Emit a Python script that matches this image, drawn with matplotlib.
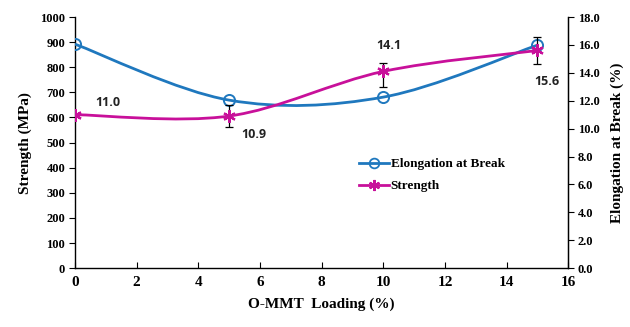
import numpy as np
import matplotlib
matplotlib.use("Agg")
import matplotlib.pyplot as plt
from matplotlib.path import Path
from matplotlib.patches import PathPatch
from matplotlib.lines import Line2D

# ---- data ----
loading = [0, 5, 10, 15]
elong_left = [892, 669, 681, 888]          # blue series, plotted on left axis
strength_right = [11.0, 10.9, 14.1, 15.6]  # magenta series, plotted on right axis
strength_err_low = [0.0, 0.8, 1.15, 1.0]
strength_err_high = [0.0, 0.8, 0.6, 1.0]
strength_labels = ["11.0", "10.9", "14.1", "15.6"]
label_offsets = [(24, 9), (18, -13), (4, 19), (7, -22)]

x_ticks = list(range(0, 17, 2))
left_ticks = list(range(0, 1001, 100))
right_ticks = [0, 2, 4, 6, 8, 10, 12, 14, 16, 18]

BLUE = "#1F78BE"
MAG = "#C8109A"
SERIF = "Liberation Serif"


def smooth_path(xs, ys):
    """Catmull-Rom style Bezier path through the points (Excel smoothed line)."""
    pts = list(zip(xs, ys))
    n = len(pts)
    verts = [pts[0]]
    codes = [Path.MOVETO]
    for i in range(n - 1):
        p0 = pts[i - 1] if i > 0 else pts[i]
        p1 = pts[i]
        p2 = pts[i + 1]
        p3 = pts[i + 2] if i + 2 < n else pts[i + 1]
        c1 = (p1[0] + (p2[0] - p0[0]) / 6.0, p1[1] + (p2[1] - p0[1]) / 6.0)
        c2 = (p2[0] - (p3[0] - p1[0]) / 6.0, p2[1] - (p3[1] - p1[1]) / 6.0)
        verts += [c1, c2, p2]
        codes += [Path.CURVE4] * 3
    return Path(verts, codes)


fig = plt.figure(figsize=(6.3, 3.27), dpi=100)
ax = fig.add_axes([0.119, 0.180, 0.783, 0.768])
ax2 = ax.twinx()

ax.set_xlim(0, 16)
ax.set_ylim(0, 1000)
ax2.set_ylim(0, 18)

# blue smooth line + markers
ax.add_patch(PathPatch(smooth_path(loading, elong_left), fill=False,
                       edgecolor=BLUE, lw=2.0, zorder=3))
ax.plot(loading, elong_left, ls="none", marker="o", ms=8, mfc="none",
        mec=BLUE, mew=1.4, zorder=4)

# magenta smooth line + markers
ax2.add_patch(PathPatch(smooth_path(loading, strength_right), fill=False,
                        edgecolor=MAG, lw=2.0, zorder=3))
ax2.errorbar(loading, strength_right,
             yerr=[strength_err_low, strength_err_high], fmt="none",
             ecolor="black", elinewidth=0.9, capsize=3, capthick=0.9, zorder=2)
ax2.plot(loading, strength_right, ls="none", marker=(6, 2, 0), ms=9,
         mec=MAG, mew=1.6, zorder=4)

for xv, yv, lab, off in zip(loading, strength_right, strength_labels, label_offsets):
    ax2.annotate(lab, (xv, yv), xytext=off, textcoords="offset points",
                 ha="center", va="center", fontsize=9, fontweight="bold",
                 family="Open Sans", color="#222222")

# spines / ticks
for a in (ax, ax2):
    a.spines["top"].set_visible(False)
ax.spines["left"].set_linewidth(1.0)
ax.spines["bottom"].set_linewidth(1.0)
ax2.spines["right"].set_linewidth(1.0)
ax2.spines["left"].set_visible(False)
ax2.spines["bottom"].set_visible(False)

ax.set_xticks(x_ticks)
ax.set_xticklabels([str(t) for t in x_ticks], fontsize=11, fontweight="bold",
                   family=SERIF)
ax.tick_params(axis="x", direction="in", length=4, pad=6)
ax.set_yticks(left_ticks)
ax.set_yticklabels([str(t) for t in left_ticks], fontsize=9,
                   fontweight="bold", family=SERIF)
ax.tick_params(axis="y", direction="out", length=4, pad=3)
ax2.set_yticks(right_ticks)
ax2.set_yticklabels([f"{t:.1f}" for t in right_ticks], fontsize=9,
                    fontweight="bold", family=SERIF)
ax2.tick_params(axis="y", direction="out", length=4, pad=3)

ax.set_xlabel("O-MMT  Loading (%)", fontsize=11, fontweight="bold",
              family=SERIF, labelpad=6)
ax.set_ylabel("Strength (MPa)", fontsize=11, fontweight="bold", family=SERIF,
              labelpad=6)
ax2.set_ylabel("Elongation at Break (%)", fontsize=11, fontweight="bold",
               family=SERIF, labelpad=8)

handles = [
    Line2D([], [], color=BLUE, lw=2, marker="o", ms=7, mfc="none", mew=1.3),
    Line2D([], [], color=MAG, lw=2, marker=(6, 2, 0), ms=8, mew=1.5),
]
leg = ax.legend(handles, ["Elongation at Break", "Strength"],
                loc="upper left", bbox_to_anchor=(0.565, 0.46),
                frameon=False, handlelength=2.3, handletextpad=0.1,
                labelspacing=0.75, borderaxespad=0,
                prop={"family": SERIF, "weight": "bold", "size": 9.5})

fig.savefig("out.png", dpi=100)
